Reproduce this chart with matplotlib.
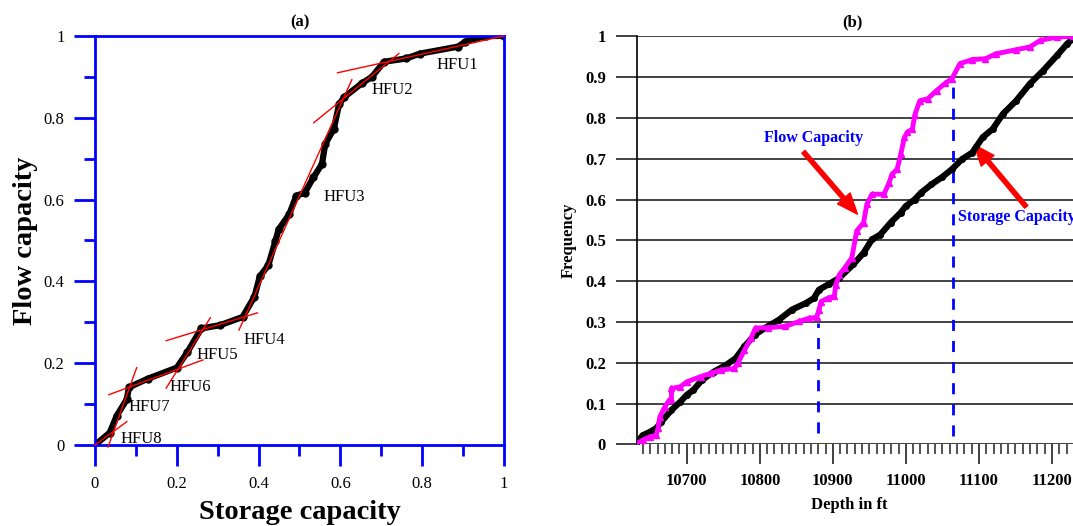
import matplotlib.pyplot as plt
import numpy as np

plt.rcParams['font.family'] = ['Liberation Serif', 'DejaVu Serif']

# ---- panel (a): Lorenz plot ----
stor_cap = [0, 0.036, 0.053, 0.078, 0.083, 0.129, 0.20, 0.226, 0.26, 0.306, 0.361,
            0.39, 0.403, 0.424, 0.441, 0.449, 0.475, 0.492, 0.513, 0.534, 0.555,
            0.563, 0.584, 0.597, 0.61, 0.652, 0.677, 0.707, 0.761, 0.795, 0.888,
            0.905, 0.955, 1.0]
flow_cap = [0, 0.030, 0.071, 0.112, 0.141, 0.162, 0.189, 0.227, 0.285, 0.293, 0.313,
            0.363, 0.412, 0.44, 0.498, 0.527, 0.564, 0.609, 0.617, 0.654, 0.687,
            0.736, 0.773, 0.834, 0.851, 0.884, 0.90, 0.937, 0.945, 0.957, 0.974,
            0.986, 1.0, 1.0]

# fitted HFU lines: (x0, y0, x1, y1)
hfu_lines = [
    (0.0, 0.0, 0.078, 0.057),
    (0.032, -0.005, 0.102, 0.189),
    (0.034, 0.123, 0.264, 0.208),
    (0.174, 0.139, 0.282, 0.311),
    (0.174, 0.255, 0.397, 0.323),
    (0.352, 0.281, 0.628, 0.893),
    (0.535, 0.788, 0.743, 0.957),
    (0.593, 0.910, 1.0, 1.0),
]
hfu_names = ['HFU1', 'HFU2', 'HFU3', 'HFU4', 'HFU5', 'HFU6', 'HFU7', 'HFU8']
hfu_x = [0.836, 0.677, 0.559, 0.363, 0.249, 0.182, 0.081, 0.062]
hfu_y = [0.930, 0.869, 0.606, 0.256, 0.221, 0.143, 0.094, 0.014]

# ---- panel (b): capacities vs depth ----
depth_s = [10630, 10639.5, 10649, 10658, 10665, 10679, 10691, 10700, 10709, 10721,
           10737, 10753.5, 10767, 10779, 10793, 10807, 10826, 10844, 10863, 10874,
           10881, 10895, 10909, 10928, 10942, 10953.5, 10965, 10979, 10993, 11000,
           11012, 11021, 11035, 11049, 11063, 11077, 11091, 11105, 11119, 11133,
           11151, 11170, 11188, 11207, 11221, 11229]
storage = [0, 0.022, 0.030, 0.039, 0.055, 0.084, 0.104, 0.121, 0.133, 0.158,
           0.178, 0.194, 0.211, 0.240, 0.268, 0.285, 0.305, 0.330, 0.346, 0.358,
           0.379, 0.393, 0.408, 0.441, 0.469, 0.502, 0.514, 0.543, 0.568, 0.584,
           0.600, 0.617, 0.637, 0.654, 0.674, 0.699, 0.715, 0.752, 0.773, 0.810,
           0.842, 0.884, 0.916, 0.953, 0.982, 0.994]

depth_f = [10630, 10639.5, 10649, 10658, 10660.5, 10663, 10670, 10676, 10679, 10679,
           10691, 10700, 10719, 10733, 10746.5, 10765, 10770, 10779, 10788, 10794,
           10811.6, 10835, 10853.5, 10867.4, 10877.7, 10881, 10884, 10893, 10902, 10904,
           10909, 10916, 10926, 10932.6, 10942, 10946.5, 10953.5, 10970, 10977, 10981,
           10988, 10993, 10998, 11002, 11009, 11012, 11019, 11030, 11042, 11054,
           11063, 11074, 11091, 11109, 11123, 11151, 11170, 11184, 11207, 11229]
flow = [0, 0.010, 0.018, 0.022, 0.039, 0.067, 0.092, 0.108, 0.112, 0.137,
        0.141, 0.153, 0.166, 0.174, 0.182, 0.186, 0.199, 0.231, 0.260, 0.285,
        0.286, 0.289, 0.301, 0.309, 0.311, 0.330, 0.350, 0.358, 0.363, 0.391,
        0.416, 0.432, 0.457, 0.523, 0.543, 0.588, 0.613, 0.613, 0.641, 0.662,
        0.674, 0.711, 0.752, 0.765, 0.773, 0.806, 0.842, 0.847, 0.867, 0.885,
        0.896, 0.933, 0.943, 0.945, 0.957, 0.967, 0.974, 0.990, 0.998, 1.0]

cut_depths = [10880, 11064]
cut_tops = [0.297, 0.905]
cut_bottoms = [0.027, 0.02]

fig = plt.figure(figsize=(10.73, 5.26), dpi=100)

# ================= (a) =================
ax1 = fig.add_axes([0.0885, 0.154, 0.3812, 0.7776])
ax1.plot(stor_cap, flow_cap, color='black', lw=4.5, marker='o', ms=5,
         solid_capstyle='round', zorder=2)
for x0, y0, x1, y1 in hfu_lines:
    ax1.plot([x0, x1], [y0, y1], color='red', lw=1, zorder=3, clip_on=False)
for name, tx, ty in zip(hfu_names, hfu_x, hfu_y):
    ax1.text(tx, ty, name, fontsize=12, ha='left', va='center')

ax1.set_xlim(0, 1)
ax1.set_ylim(0, 1)
ax1.set_xticks(np.arange(0, 1.01, 0.2))
ax1.set_yticks(np.arange(0, 1.01, 0.2))
ax1.set_xticks(np.arange(0.1, 1.0, 0.2), minor=True)
ax1.set_yticks(np.arange(0.1, 1.0, 0.2), minor=True)
ax1.set_xticklabels(['0', '0.2', '0.4', '0.6', '0.8', '1'])
ax1.set_yticklabels(['0', '0.2', '0.4', '0.6', '0.8', '1'])
for sp in ax1.spines.values():
    sp.set_color('blue')
    sp.set_linewidth(2)
ax1.tick_params(which='major', length=15, width=2, color='blue', labelsize=12, pad=7)
ax1.tick_params(which='minor', length=8, width=2, color='blue')
ax1.set_title('(a)', fontsize=12, fontweight='bold', pad=7)
ax1.set_xlabel('Storage capacity', fontsize=20.5, fontweight='bold')
ax1.set_ylabel('Flow capacity', fontsize=20.5, fontweight='bold')
ax1.xaxis.set_label_coords(0.5, -0.135)
ax1.yaxis.set_label_coords(-0.14, 0.5)

# ================= (b) =================
ax2 = fig.add_axes([0.594, 0.1553, 0.4061, 0.7757])
ax2.plot(depth_s, storage, color='black', lw=4.5, marker='o', ms=4,
         solid_capstyle='round', zorder=4)
ax2.plot(depth_f, flow, color='#ff00ff', lw=3.5, marker='^', ms=5,
         solid_capstyle='round', zorder=5)
for d, b, t in zip(cut_depths, cut_bottoms, cut_tops):
    ax2.plot([d, d], [b, t], color='blue', lw=2, ls=(0, (4, 3.6)), zorder=3)

ax2.set_xlim(10632.3, 11229)
ax2.set_ylim(0, 1)
ax2.set_yticks(np.arange(0, 1.01, 0.1))
ax2.set_yticklabels(['0', '0.1', '0.2', '0.3', '0.4', '0.5', '0.6', '0.7', '0.8', '0.9', '1'])
ax2.set_xticks(np.arange(10700, 11201, 100))
ax2.set_xticks(np.arange(10640, 11230, 10), minor=True)
ax2.yaxis.grid(True, color='#333333', lw=1.3)
ax2.set_axisbelow(True)
for side in ['top', 'right', 'bottom']:
    ax2.spines[side].set_visible(False)
ax2.spines['left'].set_color('black')
ax2.spines['left'].set_linewidth(1.2)
ax2.tick_params(axis='y', length=15, width=1.3, color='#333333', labelsize=12, pad=7.5)
ax2.tick_params(axis='x', which='major', length=14.4, width=1.3, color='#333333',
                labelsize=12, pad=6)
ax2.tick_params(axis='x', which='minor', length=7.2, width=1.3, color='#444444')
for lab in ax2.get_xticklabels() + ax2.get_yticklabels():
    lab.set_fontweight('bold')

ax2.set_title('(b)', fontsize=12, fontweight='bold', x=0.493, pad=7)
ax2.set_xlabel('Depth in ft', fontsize=12, fontweight='bold')
ax2.set_ylabel('Frequency', fontsize=12, fontweight='bold')
ax2.xaxis.set_label_coords(0.487, -0.128)
ax2.yaxis.set_label_coords(-0.139, 0.5)

arrow = dict(facecolor='red', edgecolor='red', width=3, headwidth=12, headlength=15)
ax2.annotate('', xy=(10933.7, 0.564), xytext=(10859.7, 0.717), arrowprops=arrow)
ax2.annotate('', xy=(11093.6, 0.734), xytext=(11164.8, 0.582), arrowprops=arrow)
ax2.text(10873, 0.75, 'Flow Capacity', color='blue', fontsize=11.5,
         fontweight='bold', ha='center', va='center')
ax2.text(11072, 0.556, 'Storage Capacity', color='blue', fontsize=11.5,
         fontweight='bold', ha='left', va='center', clip_on=False)

fig.savefig('out.png', dpi=100)
